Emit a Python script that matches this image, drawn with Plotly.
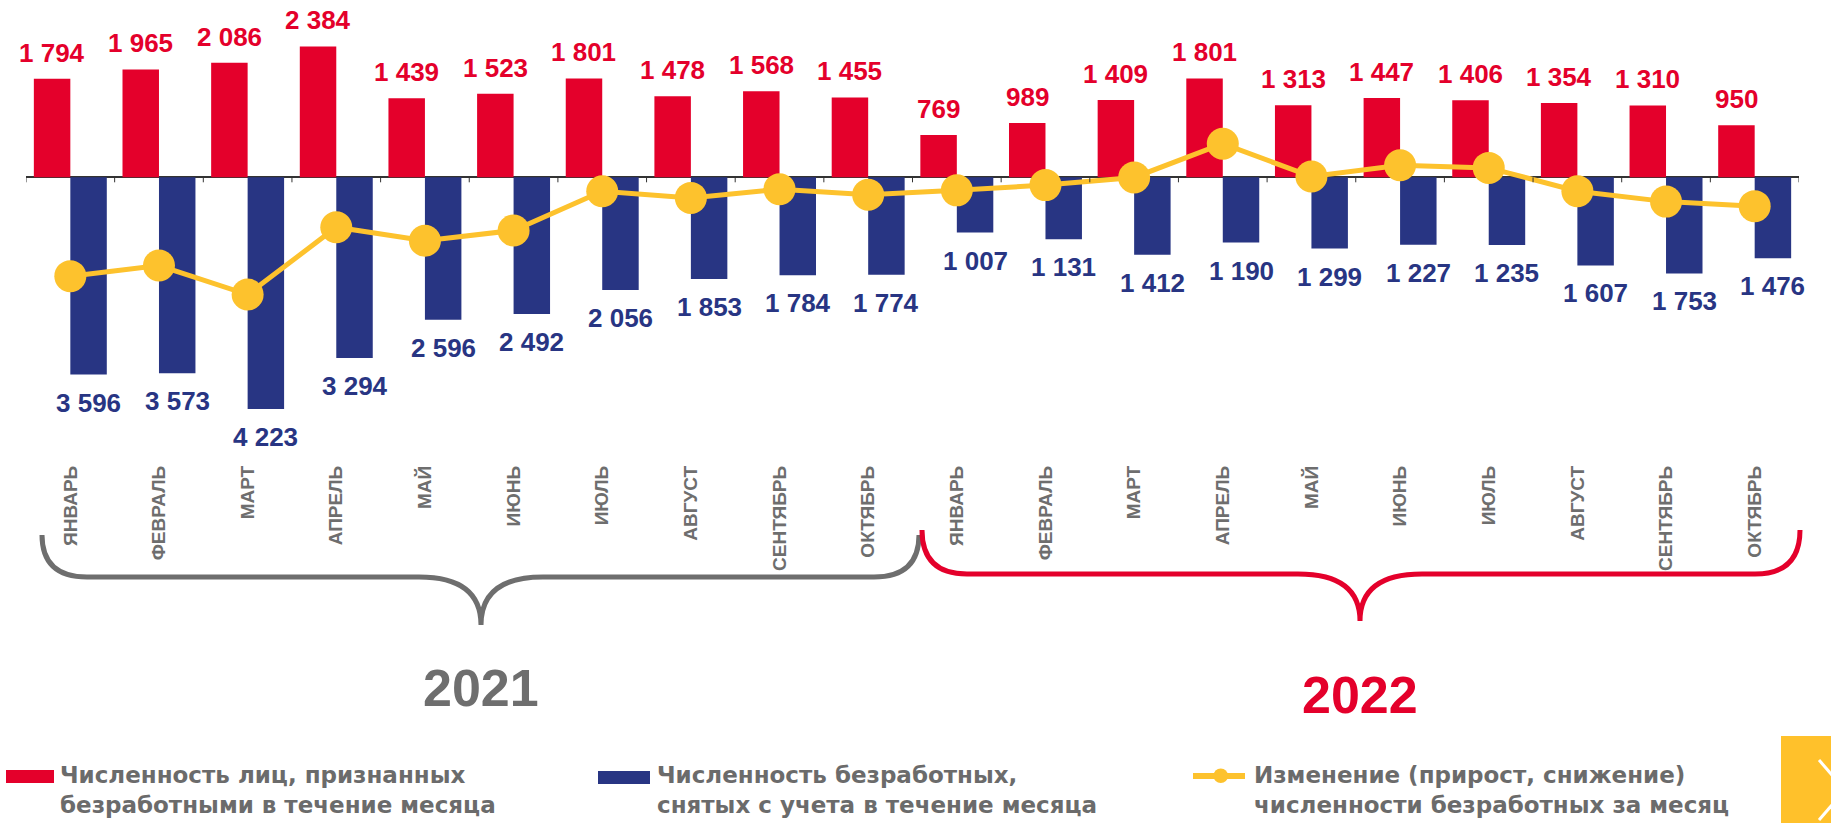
import plotly.graph_objects as go

# data
months_2021 = ['ЯНВАРЬ', 'ФЕВРАЛЬ', 'МАРТ', 'АПРЕЛЬ', 'МАЙ', 'ИЮНЬ', 'ИЮЛЬ', 'АВГУСТ', 'СЕНТЯБРЬ', 'ОКТЯБРЬ']
months_2022 = ['ЯНВАРЬ', 'ФЕВРАЛЬ', 'МАРТ', 'АПРЕЛЬ', 'МАЙ', 'ИЮНЬ', 'ИЮЛЬ', 'АВГУСТ', 'СЕНТЯБРЬ', 'ОКТЯБРЬ']
recognised = [1794, 1965, 2086, 2384, 1439, 1523, 1801, 1478, 1568, 1455,
              769, 989, 1409, 1801, 1313, 1447, 1406, 1354, 1310, 950]
removed = [3596, 3573, 4223, 3294, 2596, 2492, 2056, 1853, 1784, 1774,
           1007, 1131, 1412, 1190, 1299, 1227, 1235, 1607, 1753, 1476]
change = [-1802, -1608, -2137, -910, -1157, -969, -255, -375, -216, -319,
          -238, -142, -3, 611, 14, 220, 171, -253, -443, -526]
years = ['2021', '2022']
legend_names = ['Численность лиц, признанных<br>безработными в течение месяца',
                'Численность безработных,<br>снятых с учета в течение месяца',
                'Изменение (прирост, снижение)<br>численности безработных за месяц']

RED = '#E4002B'
BLUE = '#283583'
YELLOW = '#FDC22D'
GRAY = '#6B6B6B'
FONT = 'Liberation Sans, Arial, sans-serif'
LEGEND_FONT = 'DejaVu Sans, Verdana, sans-serif'

W, H = 1831, 823
ML, MR, MT, MB = 26, 32, 0, 363
PLOT_W, PLOT_H = W - ML - MR, H - MT - MB
BARGAP = 0.177


def px(X):
    return (X - ML) / PLOT_W


def py(Y):
    return (MT + PLOT_H - Y) / PLOT_H


def fmt(v):
    return f"{v:,}".replace(',', ' ')


labels = months_2021 + months_2022
xs = list(range(len(labels)))

fig = go.Figure()

fig.add_trace(go.Bar(x=xs, y=recognised, marker_color=RED, marker_line_width=0, name=legend_names[0]))
fig.add_trace(go.Bar(x=xs, y=[-v for v in removed], marker_color=BLUE, marker_line_width=0, name=legend_names[1]))
fig.add_trace(go.Scatter(
    x=xs, y=change, mode='lines+markers', name=legend_names[2],
    line=dict(color=YELLOW, width=5),
    marker=dict(color=YELLOW, size=32),
))

# value labels
half = (1 - BARGAP) / 4
for i in xs:
    fig.add_annotation(
        x=i - half, y=recognised[i], text=f"<b>{fmt(recognised[i])}</b>",
        showarrow=False, xanchor='center', yanchor='bottom', yshift=9,
        font=dict(family=FONT, size=26, color=RED),
    )
    fig.add_annotation(
        x=i + half, y=-removed[i], text=f"<b>{fmt(removed[i])}</b>",
        showarrow=False, xanchor='center', yanchor='top', yshift=-11,
        font=dict(family=FONT, size=26, color=BLUE),
    )

# small ticks on the zero line between months
tick_len = 5 / 0.05487
for i in range(len(labels) + 1):
    fig.add_shape(type='line', xref='x', yref='y', x0=i - 0.5, x1=i - 0.5, y0=0, y1=-tick_len,
                  line=dict(color='#333333', width=1))


# year braces
def brace(x0, x1, xm, ytop, yh, ytip, r=45, s=62):
    return (f"M {px(x0)},{py(ytop)} Q {px(x0)},{py(yh)} {px(x0 + r)},{py(yh)} "
            f"L {px(xm - s)},{py(yh)} Q {px(xm)},{py(yh)} {px(xm)},{py(ytip)} "
            f"Q {px(xm)},{py(yh)} {px(xm + s)},{py(yh)} "
            f"L {px(x1 - r)},{py(yh)} Q {px(x1)},{py(yh)} {px(x1)},{py(ytop)}")


fig.add_shape(type='path', xref='paper', yref='paper', path=brace(42, 919, 481, 535, 577, 625),
              line=dict(color='#6E6E6E', width=5))
fig.add_shape(type='path', xref='paper', yref='paper', path=brace(922, 1800, 1360, 530, 574, 621),
              line=dict(color=RED, width=5))

fig.add_annotation(xref='paper', yref='paper', x=px(481), y=py(688), xanchor='center', yanchor='middle',
                   text=f"<b>{years[0]}</b>", showarrow=False,
                   font=dict(family=FONT, size=52, color='#6E6E6E'))
fig.add_annotation(xref='paper', yref='paper', x=px(1360), y=py(695), xanchor='center', yanchor='middle',
                   text=f"<b>{years[1]}</b>", showarrow=False,
                   font=dict(family=FONT, size=52, color=RED))

# custom legend
fig.add_shape(type='rect', xref='paper', yref='paper', x0=px(6), x1=px(54), y0=py(770), y1=py(783),
              fillcolor=RED, line_width=0)
fig.add_shape(type='rect', xref='paper', yref='paper', x0=px(598), x1=px(650), y0=py(771), y1=py(784),
              fillcolor=BLUE, line_width=0)
fig.add_shape(type='line', xref='paper', yref='paper', x0=px(1193), x1=px(1245), y0=py(776), y1=py(776),
              line=dict(color=YELLOW, width=6))
fig.add_shape(type='circle', xref='paper', yref='paper', x0=px(1213.5), x1=px(1228), y0=py(768.5), y1=py(783),
              fillcolor=YELLOW, line_width=0)
for name, lx in zip(legend_names, [58, 655, 1252]):
    fig.add_annotation(xref='paper', yref='paper', x=px(lx), y=py(760), xanchor='left', yanchor='top',
                       align='left', text=f"<b>{name}</b>", showarrow=False,
                       font=dict(family=LEGEND_FONT, size=23, color=GRAY))

# navigation tab in the corner
fig.add_shape(type='rect', xref='paper', yref='paper', x0=px(1781), x1=px(1840), y0=py(736), y1=py(830),
              fillcolor='#FFC12B', line_width=0)
fig.add_shape(type='line', xref='paper', yref='paper', x0=px(1819), x1=px(1845), y0=py(760), y1=py(790),
              line=dict(color='white', width=3))
fig.add_shape(type='line', xref='paper', yref='paper', x0=px(1819), x1=px(1845), y0=py(820), y1=py(790),
              line=dict(color='white', width=3))

fig.update_layout(
    width=W, height=H,
    margin=dict(l=ML, r=MR, t=MT, b=MB),
    paper_bgcolor='white', plot_bgcolor='white',
    barmode='group', bargap=BARGAP, bargroupgap=0,
    showlegend=False,
    xaxis=dict(
        range=[-0.5, len(labels) - 0.5], tickvals=xs, ticktext=labels, tickangle=-90,
        showgrid=False, showline=False, zeroline=False, ticks='', ticklabelstandoff=1,
        tickfont=dict(family=FONT, size=19, color='#6E6E6E', weight='bold'),
    ),
    yaxis=dict(
        range=[-(PLOT_H - 177.3) / 0.05487, 177.3 / 0.05487],
        showgrid=False, showticklabels=False, ticks='',
        zeroline=True, zerolinecolor='#333333', zerolinewidth=1.5,
    ),
)

fig.write_html("out.html", config={'displayModeBar': False},
               post_script="document.body.style.margin = '0px';")
